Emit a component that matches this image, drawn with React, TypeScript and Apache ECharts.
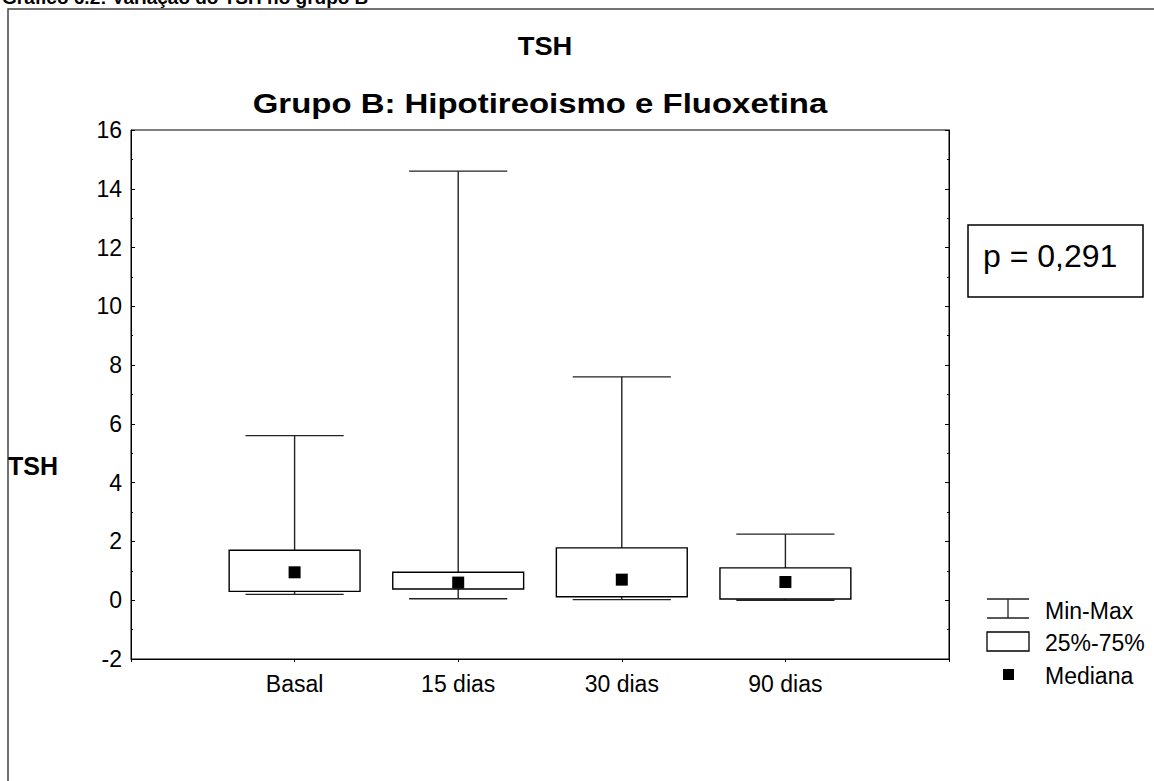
import React, { useEffect, useRef } from "react";
import * as echarts from "echarts";

const categories = ["Basal", "15 dias", "30 dias", "90 dias"];
const minValues = [0.2, 0.05, 0.02, 0.0];
const q1Values = [0.3, 0.38, 0.12, 0.04];
const medianValues = [0.95, 0.6, 0.7, 0.62];
const q3Values = [1.7, 0.95, 1.78, 1.1];
const maxValues = [5.6, 14.6, 7.6, 2.25];
const legendLabels = ["Min-Max", "25%-75%", "Mediana"];
const pText = "p = 0,291";

const FONT = "'Liberation Sans', Arial, sans-serif";

export default function App() {
  const ref = useRef<HTMLDivElement>(null);
  useEffect(() => {
    if (!ref.current) return;
    const chart = echarts.init(ref.current, null, { renderer: "svg" });
    const boxData = categories.map((_, i) => [
      i + 1,
      minValues[i],
      q1Values[i],
      medianValues[i],
      q3Values[i],
      maxValues[i],
    ]);
    const medData = categories.map((_, i) => [i + 1, medianValues[i]]);
    const lineStyle = { stroke: "#222", lineWidth: 1.4 };
    const yAxisCommon = {
      type: "value",
      min: -2,
      max: 16,
      interval: 2,
      splitLine: { show: false },
      axisLine: { show: true, onZero: false, lineStyle: { color: "#000", width: 1 } },
      axisTick: { show: true, inside: true, length: 4, lineStyle: { color: "#000" } },
      minorTick: { show: true, splitNumber: 2, length: 2, lineStyle: { color: "#000" } },
    };
    chart.setOption({
      animation: false,
      backgroundColor: "#fff",
      textStyle: { fontFamily: FONT },
      grid: {
        left: 131,
        top: 130,
        width: 818,
        height: 529,
        show: true,
        borderColor: "#000",
        borderWidth: 1,
        backgroundColor: "transparent",
      },
      xAxis: {
        type: "value",
        min: 0,
        max: 5,
        interval: 1,
        splitLine: { show: false },
        axisLine: { show: true, onZero: false, lineStyle: { color: "#000" } },
        axisTick: { show: true, inside: false, length: 3, lineStyle: { color: "#000" } },
        axisLabel: {
          color: "#000",
          fontSize: 23,
          fontFamily: FONT,
          margin: 13,
          formatter: (v: number) => categories[v - 1] ?? "",
        },
      },
      yAxis: [
        {
          ...yAxisCommon,
          position: "left",
          axisLabel: { color: "#000", fontSize: 23, fontFamily: FONT, margin: 9 },
        },
        {
          ...yAxisCommon,
          position: "right",
          axisLabel: { show: false },
        },
      ],
      series: [
        {
          type: "custom",
          data: boxData,
          encode: { x: 0, y: [1, 2, 3, 4, 5] },
          renderItem: (params: any, api: any) => {
            const x = api.value(0);
            const pMin = api.coord([x, api.value(1)]);
            const pQ1 = api.coord([x, api.value(2)]);
            const pQ3 = api.coord([x, api.value(4)]);
            const pMax = api.coord([x, api.value(5)]);
            const unit = api.size([1, 0])[0];
            const hb = unit * 0.4;
            const hc = unit * 0.3;
            const cx = pMin[0];
            return {
              type: "group",
              children: [
                { type: "line", shape: { x1: cx, y1: pMax[1], x2: cx, y2: pQ3[1] }, style: lineStyle },
                { type: "line", shape: { x1: cx, y1: pQ1[1], x2: cx, y2: pMin[1] }, style: lineStyle },
                { type: "line", shape: { x1: cx - hc, y1: pMax[1], x2: cx + hc, y2: pMax[1] }, style: lineStyle },
                { type: "line", shape: { x1: cx - hc, y1: pMin[1], x2: cx + hc, y2: pMin[1] }, style: lineStyle },
                {
                  type: "rect",
                  shape: { x: cx - hb, y: pQ3[1], width: hb * 2, height: pQ1[1] - pQ3[1] },
                  style: { fill: "#fff", stroke: "#000", lineWidth: 1.4 },
                },
              ],
            };
          },
          z: 2,
        },
        {
          type: "scatter",
          data: medData,
          symbol: "rect",
          symbolSize: 12,
          itemStyle: { color: "#000", opacity: 1 },
          z: 3,
        },
      ],
      graphic: [
        {
          type: "rect",
          shape: { x: 8, y: 9, width: 1300, height: 900 },
          style: { fill: "none", stroke: "#444", lineWidth: 1.5 },
          silent: true,
        },
        {
          type: "text",
          x: 2,
          y: -3,
          style: {
            text: "Gráfico 6.2: Variação do TSH no grupo B",
            fontFamily: FONT,
            fontSize: 19,
            fontWeight: "bold",
            fill: "#000",
            verticalAlign: "middle",
          },
        },
        {
          type: "text",
          x: 545,
          y: 46,
          scaleX: 1.05,
          style: {
            text: "TSH",
            fontFamily: FONT,
            fontSize: 26,
            fontWeight: "bold",
            fill: "#000",
            align: "center",
            verticalAlign: "middle",
          },
        },
        {
          type: "text",
          x: 540,
          y: 104,
          scaleX: 1.22,
          style: {
            text: "Grupo B: Hipotireoismo e Fluoxetina",
            fontFamily: FONT,
            fontSize: 27,
            fontWeight: "bold",
            fill: "#000",
            align: "center",
            verticalAlign: "middle",
          },
        },
        {
          type: "text",
          x: 8,
          y: 466,
          style: {
            text: "TSH",
            fontFamily: FONT,
            fontSize: 25,
            fontWeight: "bold",
            fill: "#000",
            verticalAlign: "middle",
          },
        },
        {
          type: "rect",
          shape: { x: 968, y: 225, width: 175, height: 72 },
          style: { fill: "#fff", stroke: "#000", lineWidth: 1.5 },
        },
        {
          type: "text",
          x: 983,
          y: 256,
          style: {
            text: pText,
            fontFamily: FONT,
            fontSize: 32,
            fill: "#000",
            verticalAlign: "middle",
          },
        },
        { type: "line", shape: { x1: 987, y1: 599, x2: 1029, y2: 599 }, style: { stroke: "#222", lineWidth: 1.3 } },
        { type: "line", shape: { x1: 987, y1: 618, x2: 1029, y2: 618 }, style: { stroke: "#222", lineWidth: 1.3 } },
        { type: "line", shape: { x1: 1008, y1: 599, x2: 1008, y2: 618 }, style: { stroke: "#222", lineWidth: 1.3 } },
        {
          type: "text",
          x: 1045,
          y: 611,
          style: { text: legendLabels[0], fontFamily: FONT, fontSize: 23, fill: "#000", verticalAlign: "middle" },
        },
        {
          type: "rect",
          shape: { x: 987, y: 632, width: 42, height: 19 },
          style: { fill: "#fff", stroke: "#000", lineWidth: 1.3 },
        },
        {
          type: "text",
          x: 1045,
          y: 643,
          style: { text: legendLabels[1], fontFamily: FONT, fontSize: 23, fill: "#000", verticalAlign: "middle" },
        },
        {
          type: "rect",
          shape: { x: 1003, y: 669, width: 11, height: 11 },
          style: { fill: "#000" },
        },
        {
          type: "text",
          x: 1045,
          y: 676,
          style: { text: legendLabels[2], fontFamily: FONT, fontSize: 23, fill: "#000", verticalAlign: "middle" },
        },
      ],
    });
    return () => chart.dispose();
  }, []);
  return (
    <div
      ref={ref}
      style={{ position: "fixed", left: 0, top: 0, width: 1154, height: 781, background: "#fff" }}
    />
  );
}
